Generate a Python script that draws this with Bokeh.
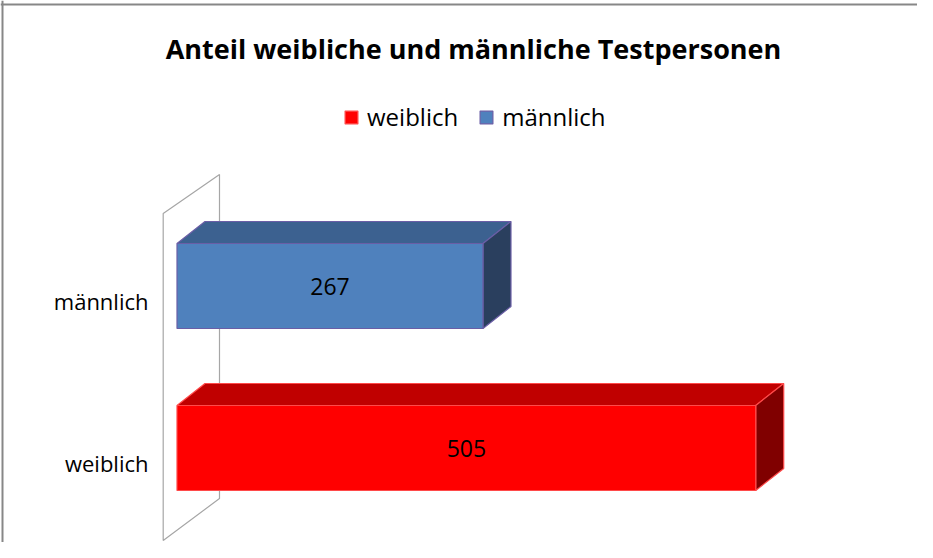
from bokeh.plotting import figure
from bokeh.models import ColumnDataSource, Legend, LegendItem, Label, Range1d, Span
from bokeh.core.properties import value
from bokeh.embed import file_html
from bokeh.resources import INLINE

# ---- data ----
title_text = "Anteil weibliche und männliche Testpersonen"
categories = ["weiblich", "männlich"]
counts = [505, 267]

# ---- style ----
front_colors = ["#FF0000", "#4F81BD"]
top_colors = ["#C00000", "#3C6190"]
side_colors = ["#800000", "#2A3F5E"]
edge_colors = ["#FF4A4A", "#6A5EA6"]
FONT = "Open Sans"

W, H = 917, 542
X0_PX = 176.5          # canvas x of value 0
PX_PER_UNIT = 1.146    # pixels per count
Y0_PX = 447.5          # canvas y of first category centre
PX_PER_CAT = 162.0     # pixels between categories

x_start = -X0_PX / PX_PER_UNIT
x_end = (W - X0_PX) / PX_PER_UNIT
y_end = Y0_PX / PX_PER_CAT
y_start = (Y0_PX - H) / PX_PER_CAT

bar_h = 85 / PX_PER_CAT
dx = 28 / PX_PER_UNIT
dy = 22 / PX_PER_CAT

def px_x(px):
    return (px - X0_PX) / PX_PER_UNIT

def px_y(px):
    return (Y0_PX - px) / PX_PER_CAT

p = figure(width=W, height=H, x_range=Range1d(x_start, x_end), y_range=Range1d(y_start, y_end),
           min_border=0, toolbar_location=None, output_backend="svg",
           x_axis_location=None, y_axis_location=None, outline_line_color=None,
           background_fill_color="white", border_fill_color="white")
p.grid.visible = False

# chart border (top and left edges visible)
p.add_layout(Span(location=px_y(4), dimension="width", line_color="#878787", line_width=2))
p.add_layout(Span(location=px_x(2), dimension="height", line_color="#878787", line_width=2))

# side wall (perspective)
wl, wr = px_x(162.7), px_x(219.0)
wall_x = [wl, wr, wr, wl]
wall_y = [px_y(213), px_y(174), px_y(498), px_y(540)]
p.patch(wall_x, wall_y, fill_alpha=0, line_color="#A6A6A6", line_width=1.2)

idx = list(range(len(categories)))
top_xs, top_ys, side_xs, side_ys = [], [], [], []
for i, v in zip(idx, counts):
    t = i + bar_h / 2
    b = i - bar_h / 2
    top_xs.append([0, v, v + dx, dx])
    top_ys.append([t, t, t + dy, t + dy])
    side_xs.append([v, v, v + dx, v + dx])
    side_ys.append([b, t, t + dy, b + dy])

p.patches(top_xs, top_ys, fill_color=top_colors, line_color=edge_colors, line_width=1.2)
p.patches(side_xs, side_ys, fill_color=side_colors, line_color=edge_colors, line_width=1.2)

src = ColumnDataSource(dict(y=idx, right=counts, cat=categories, fc=front_colors, lc=edge_colors,
                            mid=[v / 2 for v in counts], lab=[str(v) for v in counts]))
front = p.hbar(y="y", left=0, right="right", height=bar_h, fill_color="fc", line_color="lc",
               line_width=1.2, source=src)

p.text(x="mid", y="y", text="lab", source=src, text_align="center", text_baseline="middle",
       text_font=value(FONT), text_font_size="23px", text_color="black")

p.text(x=0, y="y", text="cat", source=src, x_offset=-28.5, y_offset=15, text_align="right",
       text_baseline="middle", text_font=value(FONT), text_font_size="22px", text_color="black")

legend = Legend(items=[LegendItem(label=categories[0], renderers=[front], index=0),
                       LegendItem(label=categories[1], renderers=[front], index=1)],
                orientation="horizontal", location=(343, 409),
                glyph_width=16, glyph_height=16, label_standoff=8, spacing=20,
                padding=0, margin=0, border_line_color=None, background_fill_alpha=0,
                label_text_font=FONT, label_text_font_size="24px", label_text_color="black")
p.add_layout(legend)

p.add_layout(Label(x=473, y=H - 48, x_units="screen", y_units="screen", text=title_text,
                   text_align="center", text_baseline="alphabetic", text_font=FONT,
                   text_font_style="bold", text_font_size="27px", text_color="black"))

open("out.html", "w").write(file_html(p, INLINE))
